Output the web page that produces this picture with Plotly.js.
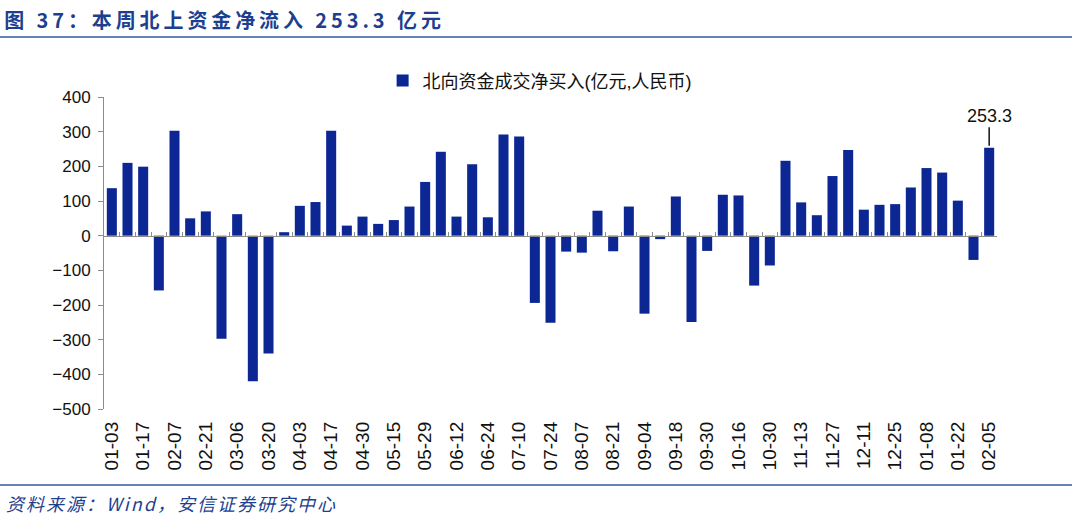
<!DOCTYPE html>
<html>
<head>
<meta charset="utf-8">
<script src="https://cdn.plot.ly/plotly-3.0.1.min.js"></script>
<style>
html,body{margin:0;padding:0;background:#fff;}
#chart{width:1080px;height:517px;}
#chart .annotation[data-index="0"] .annotation-text{letter-spacing:3.9px;}
#chart .annotation[data-index="1"] .annotation-text{letter-spacing:2px;}
</style>
</head>
<body>
<div id="chart"></div>
<script>
// weekly categories (every other one is labelled on the axis)
const categories = ["01-03","01-10","01-17","01-28","02-07","02-14","02-21","02-28","03-06","03-13","03-20","03-27",
  "04-03","04-10","04-17","04-24","04-30","05-08","05-15","05-22","05-29","06-05","06-12","06-19","06-24","07-03",
  "07-10","07-17","07-24","07-31","08-07","08-14","08-21","08-28","09-04","09-11","09-18","09-25","09-30","10-09",
  "10-16","10-23","10-30","11-06","11-13","11-20","11-27","12-04","12-11","12-18","12-25","01-01","01-08","01-15",
  "01-22","01-29","02-05"];
const netBuy = [137,210,199,-158,303,50,70,-297,62,-420,-340,10,
  86,97,303,29,55,34,45,84,155,242,55,206,53,292,
  286,-194,-251,-46,-49,72,-45,84,-225,-10,113,-249,-44,118,
  116,-144,-86,216,96,59,172,247,75,89,91,139,195,182,
  101,-70,253.3];
const tickLabels = ["01-03","01-17","02-07","02-21","03-06","03-20","04-03","04-17","04-30","05-15","05-29","06-12",
  "06-24","07-10","07-24","08-07","08-21","09-04","09-18","09-30","10-16","10-30","11-13","11-27","12-11","12-25",
  "01-08","01-22","02-05"];
const seriesName = "北向资金成交净买入(亿元,人民币)";
const yTicks = [-500,-400,-300,-200,-100,0,100,200,300,400];
const titleText = "图 37：本周北上资金净流入 253.3 亿元";
const sourceText = "资料来源：Wind，安信证券研究中心";

const barColor = "#0c2693";
const axisGray = "#8c8c8c";
const textBlue = "#1d3f8f";
const latin = "'Liberation Sans', Arial, sans-serif";
const cjk = "'Liberation Sans', 'Noto Sans CJK SC', sans-serif";

const lastIdx = netBuy.length - 1;

const traces = [
  {type:"bar", x:categories, y:netBuy, name:seriesName, marker:{color:barColor, line:{width:0}},
   xaxis:"x", yaxis:"y", hoverinfo:"x+y"},
  {type:"scatter", x:categories, y:netBuy, mode:"none", showlegend:false, hoverinfo:"skip",
   xaxis:"x2", yaxis:"y"}
];

const layout = {
  width:1080, height:517,
  margin:{l:104, r:83, t:97, b:108, pad:0},
  paper_bgcolor:"#fff", plot_bgcolor:"#fff",
  bargap:0.36,
  showlegend:true,
  legend:{orientation:"h", x:0.312, xanchor:"left", y:1.052, yanchor:"middle",
          font:{family:cjk, size:18, color:"#111"}, itemwidth:30, tracegroupgap:0},
  xaxis:{type:"category", anchor:"free", position:500/900, showline:true, linecolor:axisGray, linewidth:1,
         ticks:"inside", tickson:"boundaries", ticklen:4, tickcolor:axisGray, showticklabels:false,
         showgrid:false, zeroline:false, range:[-0.5, categories.length-0.5]},
  xaxis2:{type:"category", overlaying:"x", matches:"x", anchor:"y", side:"bottom", showline:false, ticks:"",
          tickmode:"array", tickvals:tickLabels, ticktext:tickLabels, tickangle:-90,
          ticklabelstandoff:8, tickfont:{family:latin, size:19, color:"#111"}, showgrid:false, zeroline:false},
  yaxis:{range:[-500,400], tickmode:"array", tickvals:yTicks, showline:true, linecolor:axisGray, linewidth:1,
         ticks:"outside", ticklen:5, tickcolor:axisGray, showgrid:false, zeroline:false,
         ticklabelstandoff:4, tickfont:{family:latin, size:17, color:"#111"}},
  shapes:[
    {type:"line", xref:"paper", yref:"paper", x0:-104/893, x1:968/893, y0:(409-37)/312, y1:(409-37)/312,
     line:{color:"#2f58a8", width:1.5}},
    {type:"line", xref:"paper", yref:"paper", x0:-104/893, x1:968/893, y0:(409-485)/312, y1:(409-485)/312,
     line:{color:"#2f58a8", width:1.5}}
  ],
  annotations:[
    {xref:"paper", yref:"paper", x:(224-104)/893, y:(409-19)/312, xanchor:"center", yanchor:"middle", showarrow:false,
     text:"<b>" + titleText + "</b>",
     font:{family:"'Noto Sans CJK SC', sans-serif", size:20, color:textBlue}},
    {xref:"paper", yref:"paper", x:(172-104)/893, y:(409-503)/312, xanchor:"center", yanchor:"middle", showarrow:false,
     text:"<i>" + sourceText + "</i>",
     font:{family:"'Noto Sans CJK SC', sans-serif", size:18, color:textBlue}},
    {xref:"x", yref:"y", x:categories[lastIdx], y:netBuy[lastIdx], text:String(netBuy[lastIdx]),
     showarrow:true, arrowhead:0, arrowwidth:1.5, arrowcolor:"#111", ax:0, ay:-32, standoff:2,
     font:{family:latin, size:18, color:"#111"}}
  ]
};

Plotly.newPlot("chart", traces, layout, {staticPlot:true, displayModeBar:false});
</script>
</body>
</html>
